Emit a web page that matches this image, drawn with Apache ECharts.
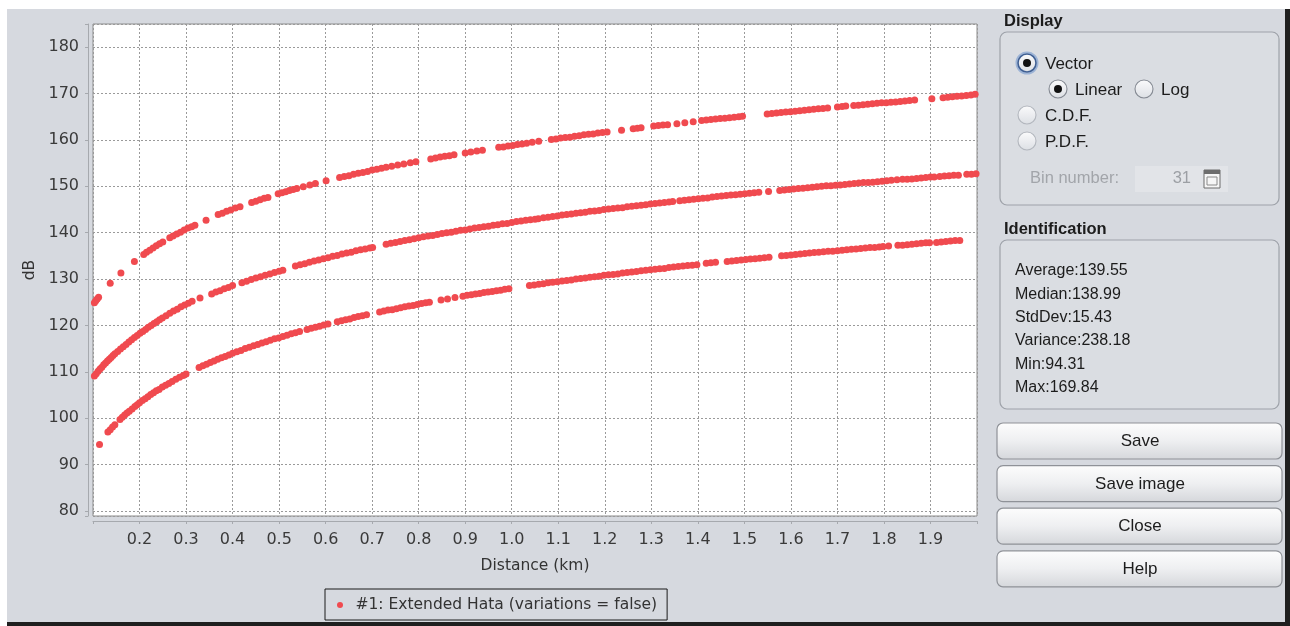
<!DOCTYPE html>
<html>
<head>
<meta charset="utf-8">
<script src="https://cdn.jsdelivr.net/npm/echarts@6/dist/echarts.min.js"></script>
<style>
html,body{margin:0;padding:0;background:#fff;}
#frame{position:absolute;left:7px;top:9px;width:1278px;height:613px;background:#d6d9df;border-right:5px solid #1f1f1f;border-bottom:4px solid #1f1f1f;}
#chart{position:absolute;left:0;top:0;width:1290px;height:626px;}
</style>
</head>
<body>
<div id="frame"></div>
<div id="chart"></div>
<script>
// ---------------- data ----------------
const seriesName = '#1: Extended Hata (variations = false)';
const xAxisName = 'Distance (km)';
const yAxisName = 'dB';

// upper branch [distance km, dB]
const upperCurve = [
 [0.103,124.9],[0.106,125.3],[0.109,125.7],[0.112,126.1],
 [0.137,129.1],[0.160,131.3],[0.189,133.8],
 [0.209,135.3],[0.215,135.8],[0.222,136.2],[0.229,136.7],[0.236,137.2],[0.243,137.6],[0.250,138.0],
 [0.265,138.9],[0.272,139.3],[0.280,139.7],[0.288,140.1],[0.296,140.6],[0.304,141.0],[0.312,141.3],[0.319,141.6],
 [0.343,142.7],
 [0.369,143.9],[0.378,144.2],[0.387,144.6],[0.396,144.9],[0.406,145.3],[0.416,145.6],
 [0.441,146.5],[0.450,146.8],[0.459,147.1],[0.468,147.4],[0.476,147.6],
 [0.498,148.4],[0.506,148.6],[0.514,148.8],[0.522,149.1],[0.530,149.3],[0.538,149.5],
 [0.552,149.9],[0.566,150.3],[0.578,150.6],[0.601,151.2],
 [0.630,151.9],[0.640,152.1],[0.650,152.3],[0.660,152.6],[0.670,152.8],[0.680,153.0],[0.690,153.2],[0.700,153.5],
 [0.710,153.7],[0.720,153.9],[0.730,154.1],[0.742,154.3],[0.755,154.6],[0.768,154.8],[0.782,155.1],[0.794,155.3],
 [0.826,155.9],[0.836,156.1],[0.846,156.3],[0.856,156.5],[0.866,156.6],[0.876,156.8],
 [0.900,157.2],[0.912,157.4],[0.925,157.6],[0.937,157.8],
 [0.972,158.4],[0.982,158.5],[0.992,158.7],[1.002,158.8],[1.012,159.0],[1.022,159.1],[1.032,159.3],[1.044,159.5],[1.058,159.7],
 [1.085,160.1],[1.095,160.2],[1.105,160.4],[1.115,160.5],[1.125,160.6],[1.135,160.8],[1.145,160.9],[1.155,161.1],
 [1.165,161.2],[1.175,161.3],[1.185,161.5],[1.195,161.6],[1.205,161.7],
 [1.236,162.1],[1.261,162.4],[1.270,162.5],[1.278,162.6],
 [1.305,163.0],[1.315,163.1],[1.325,163.2],[1.335,163.3],
 [1.355,163.5],[1.372,163.7],[1.390,163.9],
 [1.408,164.2],[1.418,164.3],[1.428,164.4],[1.438,164.5],[1.448,164.6],[1.458,164.7],[1.468,164.8],[1.478,164.9],[1.488,165.0],[1.496,165.1],
 [1.549,165.6],[1.559,165.7],[1.569,165.8],[1.579,165.9],[1.589,166.0],[1.599,166.1],[1.609,166.2],[1.619,166.3],
 [1.629,166.4],[1.639,166.5],[1.649,166.6],[1.659,166.7],[1.669,166.8],[1.679,166.9],
 [1.700,167.1],[1.710,167.2],[1.718,167.3],
 [1.735,167.4],[1.745,167.5],[1.755,167.6],[1.765,167.7],[1.775,167.8],[1.785,167.9],[1.795,168.0],[1.805,168.0],
 [1.815,168.1],[1.825,168.2],[1.835,168.3],[1.845,168.4],[1.855,168.5],[1.866,168.6],
 [1.903,168.9],
 [1.927,169.1],[1.937,169.2],[1.947,169.3],[1.957,169.4],[1.967,169.5],[1.977,169.6],[1.987,169.7],[1.996,169.84]
];

// middle branch
const middleCurve = [
 [0.103,109.1],[0.107,109.6],[0.111,110.1],[0.115,110.6],[0.119,111.0],[0.123,111.5],[0.127,111.9],[0.131,112.3],
 [0.135,112.7],[0.139,113.1],[0.143,113.5],[0.147,113.9],[0.153,114.4],[0.159,114.9],[0.165,115.4],[0.171,115.9],
 [0.177,116.4],[0.183,116.9],[0.189,117.4],[0.195,117.8],[0.201,118.3],[0.207,118.7],[0.213,119.1],[0.219,119.6],
 [0.225,120.0],[0.231,120.4],[0.237,120.8],[0.243,121.2],[0.249,121.6],[0.257,122.1],[0.265,122.6],[0.273,123.1],
 [0.281,123.5],[0.289,124.0],[0.297,124.4],[0.305,124.8],[0.313,125.2],
 [0.330,125.9],
 [0.355,126.8],[0.364,127.2],[0.373,127.5],[0.382,127.9],[0.391,128.2],[0.400,128.6],
 [0.420,129.2],[0.430,129.5],[0.440,129.9],[0.450,130.2],[0.460,130.5],[0.470,130.8],[0.480,131.1],[0.490,131.4],[0.500,131.7],[0.508,131.9],
 [0.535,132.8],[0.545,133.1],[0.555,133.3],[0.565,133.6],[0.575,133.9],[0.585,134.1],[0.595,134.4],[0.605,134.6],
 [0.615,134.9],[0.625,135.1],[0.635,135.4],[0.645,135.6],[0.655,135.8],[0.665,136.1],[0.675,136.3],[0.685,136.5],[0.695,136.7],[0.701,136.8],
 [0.730,137.5],[0.740,137.7],[0.750,137.9],[0.760,138.1],[0.770,138.3],[0.780,138.5],[0.790,138.7],[0.800,138.9],
 [0.810,139.1],[0.820,139.3],[0.830,139.4],[0.840,139.6],[0.850,139.8],[0.860,140.0],[0.870,140.1],[0.880,140.3],
 [0.890,140.5],[0.900,140.6],[0.910,140.8],[0.920,141.0],[0.930,141.1],[0.940,141.3],[0.950,141.4],[0.960,141.6],
 [0.970,141.7],[0.980,141.9],[0.990,142.0],[1.000,142.2],[1.010,142.4],[1.020,142.5],[1.030,142.7],[1.040,142.8],[1.050,142.9],[1.057,143.0],
 [1.068,143.2],[1.078,143.3],[1.088,143.5],[1.098,143.6],[1.108,143.8],[1.118,143.9],[1.128,144.0],[1.138,144.2],
 [1.148,144.3],[1.158,144.4],[1.168,144.6],[1.178,144.7],[1.188,144.8],[1.198,145.0],[1.208,145.1],[1.218,145.2],
 [1.228,145.3],[1.238,145.4],[1.248,145.6],[1.258,145.7],[1.268,145.8],[1.278,145.9],[1.288,146.0],[1.298,146.2],
 [1.308,146.3],[1.318,146.4],[1.328,146.5],[1.338,146.6],[1.346,146.7],
 [1.361,146.9],[1.371,147.0],[1.381,147.1],[1.391,147.2],[1.401,147.3],[1.411,147.4],[1.421,147.5],[1.431,147.7],
 [1.441,147.8],[1.451,147.9],[1.461,148.0],[1.471,148.1],[1.481,148.2],[1.491,148.3],[1.501,148.4],[1.511,148.5],[1.521,148.6],[1.531,148.7],
 [1.552,148.9],
 [1.576,149.1],[1.586,149.2],[1.596,149.3],[1.606,149.4],[1.616,149.5],[1.626,149.6],[1.636,149.7],[1.646,149.8],
 [1.656,149.9],[1.666,150.0],[1.676,150.1],[1.686,150.1],[1.696,150.2],[1.706,150.3],[1.716,150.4],[1.726,150.5],
 [1.736,150.6],[1.746,150.7],[1.756,150.8],[1.766,150.8],[1.776,150.9],[1.786,151.0],[1.796,151.1],[1.806,151.2],[1.816,151.3],[1.828,151.4],
 [1.840,151.5],[1.850,151.5],[1.860,151.6],[1.870,151.7],[1.880,151.8],[1.890,151.9],[1.900,152.0],[1.908,152.0],
 [1.920,152.1],[1.930,152.2],[1.940,152.3],[1.950,152.4],[1.960,152.4],
 [1.978,152.6],[1.988,152.6],[1.998,152.7]
];

// lower branch
const lowerCurve = [
 [0.114,94.31],
 [0.132,97.0],[0.137,97.5],[0.142,98.1],[0.147,98.6],
 [0.158,99.7],[0.163,100.2],[0.168,100.7],[0.173,101.1],[0.178,101.5],[0.184,102.0],[0.190,102.5],[0.195,102.9],
 [0.200,103.3],[0.206,103.8],[0.212,104.2],[0.218,104.6],[0.224,105.1],[0.230,105.5],[0.236,105.9],[0.242,106.2],
 [0.249,106.7],[0.256,107.1],[0.263,107.5],[0.270,107.9],[0.278,108.4],[0.286,108.8],[0.294,109.2],[0.300,109.5],
 [0.328,110.9],[0.336,111.3],[0.344,111.6],[0.352,112.0],[0.360,112.3],[0.368,112.7],[0.376,113.0],[0.384,113.3],
 [0.392,113.6],[0.400,114.0],[0.409,114.3],[0.418,114.6],[0.427,115.0],[0.436,115.3],[0.445,115.6],[0.454,115.9],
 [0.463,116.2],[0.472,116.5],[0.481,116.8],[0.490,117.1],[0.499,117.3],[0.508,117.6],[0.517,117.9],[0.526,118.2],
 [0.535,118.4],[0.544,118.7],
 [0.560,119.1],[0.569,119.4],[0.578,119.6],[0.587,119.8],[0.596,120.1],[0.605,120.3],
 [0.625,120.8],[0.634,121.0],[0.643,121.2],[0.652,121.4],[0.661,121.7],[0.670,121.9],[0.679,122.1],[0.688,122.3],
 [0.716,122.9],[0.725,123.1],[0.734,123.3],[0.743,123.4],[0.752,123.6],[0.761,123.8],[0.770,124.0],[0.779,124.2],
 [0.788,124.3],[0.797,124.5],[0.806,124.7],[0.815,124.9],[0.823,125.0],
 [0.848,125.5],[0.862,125.7],[0.878,126.0],
 [0.895,126.3],[0.904,126.5],[0.913,126.6],[0.922,126.8],[0.931,126.9],[0.940,127.1],[0.949,127.2],[0.958,127.3],
 [0.967,127.5],[0.976,127.6],[0.985,127.8],[0.994,127.9],
 [1.038,128.6],[1.048,128.7],[1.058,128.9],[1.068,129.0],[1.078,129.2],[1.088,129.3],[1.098,129.4],[1.108,129.6],
 [1.118,129.7],[1.128,129.8],[1.138,130.0],[1.148,130.1],[1.158,130.2],[1.168,130.4],[1.178,130.5],[1.188,130.6],
 [1.198,130.8],[1.208,130.9],[1.218,131.0],[1.228,131.1],[1.238,131.3],[1.248,131.4],[1.258,131.5],[1.268,131.6],
 [1.278,131.8],[1.288,131.9],[1.298,132.0],[1.308,132.1],[1.318,132.2],[1.328,132.3],[1.338,132.5],[1.348,132.6],
 [1.358,132.7],[1.368,132.8],[1.378,132.9],[1.388,133.0],[1.398,133.1],
 [1.418,133.4],[1.428,133.5],[1.438,133.6],
 [1.463,133.8],[1.473,133.9],[1.483,134.0],[1.493,134.1],[1.503,134.2],[1.513,134.3],[1.523,134.4],[1.533,134.5],[1.543,134.6],[1.553,134.7],
 [1.580,135.0],[1.590,135.1],[1.600,135.2],[1.610,135.3],[1.620,135.4],[1.630,135.5],[1.640,135.6],[1.650,135.7],
 [1.660,135.8],[1.670,135.9],[1.680,136.0],[1.690,136.0],[1.700,136.1],[1.710,136.2],[1.720,136.3],[1.730,136.4],
 [1.740,136.5],[1.750,136.6],[1.760,136.7],[1.770,136.8],[1.780,136.8],[1.790,136.9],[1.798,137.0],
 [1.810,137.1],
 [1.830,137.3],[1.840,137.3],[1.850,137.4],[1.860,137.5],[1.870,137.6],[1.880,137.7],[1.890,137.8],[1.898,137.8],
 [1.913,137.9],[1.923,138.0],[1.933,138.1],[1.943,138.2],[1.953,138.3],[1.963,138.3]
];

const statsLines = ['Average:139.55','Median:138.99','StdDev:15.43','Variance:238.18','Min:94.31','Max:169.84'];
const displayOptions = ['Vector','Linear','Log','C.D.F.','P.D.F.'];
const binLabel = 'Bin number:';
const binValue = '31';
const buttonLabels = ['Save','Save image','Close','Help'];

// ---------------- side panel graphics ----------------
const UI = '"Liberation Sans", Arial, sans-serif';
const g = [];
function txt(x, y, s, font, fill, align) {
  g.push({type:'text', x:x, y:y, silent:true, style:{text:s, font:font, fill:fill,
    textAlign:align||'left', align:align||'left', textVerticalAlign:'middle', verticalAlign:'middle'}});
}
function radio(cx, cy, sel, focus, disabled) {
  if (focus) g.push({type:'circle', shape:{cx:cx, cy:cy, r:10.5}, style:{fill:'none', stroke:'#9db4d6', lineWidth:2}});
  g.push({type:'circle', shape:{cx:cx, cy:cy, r:9}, style:{
    fill:{type:'linear', x:0, y:0, x2:0, y2:1, colorStops:[{offset:0,color:'#fbfbfc'},{offset:1,color:'#dcdfe4'}]},
    stroke: focus ? '#3f5f93' : (disabled ? '#b3b7be' : '#858a93'), lineWidth: focus ? 1.6 : 1.1}});
  if (sel) g.push({type:'circle', shape:{cx:cx, cy:cy, r:4}, style:{fill:'#111'}});
}
// Display group
txt(1004, 21, 'Display', 'bold 16.5px ' + UI, '#1c1c1c');
g.push({type:'rect', shape:{x:1000, y:32, width:279, height:173, r:7}, style:{fill:'#dadde2', stroke:'#9ea2a9', lineWidth:1.2}});
radio(1027, 63, true, true, false);  txt(1045, 64, displayOptions[0], '17px ' + UI, '#1c1c1c');
radio(1058, 89, true, false, false); txt(1075, 90, displayOptions[1], '17px ' + UI, '#1c1c1c');
radio(1144, 89, false, false, false); txt(1161, 90, displayOptions[2], '17px ' + UI, '#1c1c1c');
radio(1027, 115, false, false, true); txt(1045, 116, displayOptions[3], '17px ' + UI, '#1c1c1c');
radio(1027, 141, false, false, true); txt(1045, 142, displayOptions[4], '17px ' + UI, '#1c1c1c');
txt(1030, 178, binLabel, '16.5px ' + UI, '#a2a5aa');
g.push({type:'rect', shape:{x:1135, y:166, width:93, height:26}, style:{fill:'#e2e4e8'}});
txt(1191, 178, binValue, '16.5px ' + UI, '#9c9fa4', 'right');
g.push({type:'rect', shape:{x:1204, y:170, width:16, height:18}, style:{fill:'#f6f6f6', stroke:'#6d6d6d', lineWidth:1}});
g.push({type:'rect', shape:{x:1204, y:170, width:16, height:4}, style:{fill:'#6d6d6d'}});
g.push({type:'rect', shape:{x:1207, y:177, width:10, height:8}, style:{fill:'none', stroke:'#8a8a8a', lineWidth:1}});
// Identification group
txt(1004, 229, 'Identification', 'bold 16.5px ' + UI, '#1c1c1c');
g.push({type:'rect', shape:{x:1000, y:240, width:279, height:169, r:7}, style:{fill:'#dadde2', stroke:'#9ea2a9', lineWidth:1.2}});
statsLines.forEach(function (s, i) { txt(1015, 271 + i * 23.3, s, '16px ' + UI, '#1c1c1c'); });
// Buttons
buttonLabels.forEach(function (s, i) {
  const y = 423 + i * 42.6;
  g.push({type:'rect', shape:{x:997, y:y, width:285, height:36, r:6}, style:{
    fill:{type:'linear', x:0, y:0, x2:0, y2:1, colorStops:[{offset:0,color:'#fdfdfd'},{offset:0.5,color:'#eeeff1'},{offset:1,color:'#d5d7db'}]},
    stroke:'#8f9298', lineWidth:1.2}});
  txt(1140, y + 18.5, s, '17px ' + UI, '#1c1c1c', 'center');
});

// ---------------- chart ----------------
const chart = echarts.init(document.getElementById('chart'), null, {renderer:'canvas'});
const AX = '"DejaVu Sans", sans-serif';
chart.setOption({
  animation: false,
  backgroundColor: 'transparent',
  grid: {left:93, top:24, width:884, height:492, show:true, backgroundColor:'#ffffff', borderColor:'#8c8c8c', borderWidth:1, containLabel:false},
  legend: {
    data:[seriesName], left:325, top:589, orient:'horizontal', selectedMode:false,
    icon:'circle', itemWidth:21, itemHeight:6,
    padding:[7,10,6,12], borderColor:'#1a1a1a', borderWidth:1, borderRadius:0, backgroundColor:'transparent',
    textStyle:{fontFamily:AX, fontSize:15.5, color:'#333', lineHeight:18}
  },
  xAxis: {
    type:'value', min:0.1, max:2.0, minInterval:0.1, maxInterval:0.1, offset:5,
    name:xAxisName, nameLocation:'middle', nameGap:37,
    nameTextStyle:{fontFamily:AX, fontSize:15.5, color:'#333'},
    axisLine:{show:true, lineStyle:{color:'#a6a9ae', width:1}},
    axisTick:{show:true, length:3, lineStyle:{color:'#a6a9ae'}},
    axisLabel:{margin:11, fontFamily:AX, fontSize:16, color:'#3a3a3a',
      formatter:function (v) { return (v < 0.15 || v > 1.95) ? '' : v.toFixed(1); }},
    splitLine:{show:true, lineStyle:{color:'#9a9a9a', width:1, type:[2,2]}}
  },
  yAxis: {
    type:'value', min:78.9, max:185, minInterval:10, maxInterval:10, offset:5,
    name:yAxisName, nameLocation:'middle', nameGap:42,
    nameTextStyle:{fontFamily:AX, fontSize:15.5, color:'#333'},
    axisLine:{show:true, lineStyle:{color:'#a6a9ae', width:1}},
    axisTick:{show:true, length:3, lineStyle:{color:'#a6a9ae'}},
    axisLabel:{margin:9, fontFamily:AX, fontSize:16, color:'#3a3a3a',
      formatter:function (v) { return Math.abs(v / 10 - Math.round(v / 10)) < 1e-6 ? String(v) : ''; }},
    splitLine:{show:true, lineStyle:{color:'#9a9a9a', width:1, type:[2,2]}}
  },
  series: [{
    name:seriesName, type:'scatter', symbol:'circle', symbolSize:7,
    itemStyle:{color:'#f04a4f', opacity:1},
    data: upperCurve.concat(middleCurve, lowerCurve)
  }],
  graphic: {elements: g}
});
</script>
</body>
</html>
